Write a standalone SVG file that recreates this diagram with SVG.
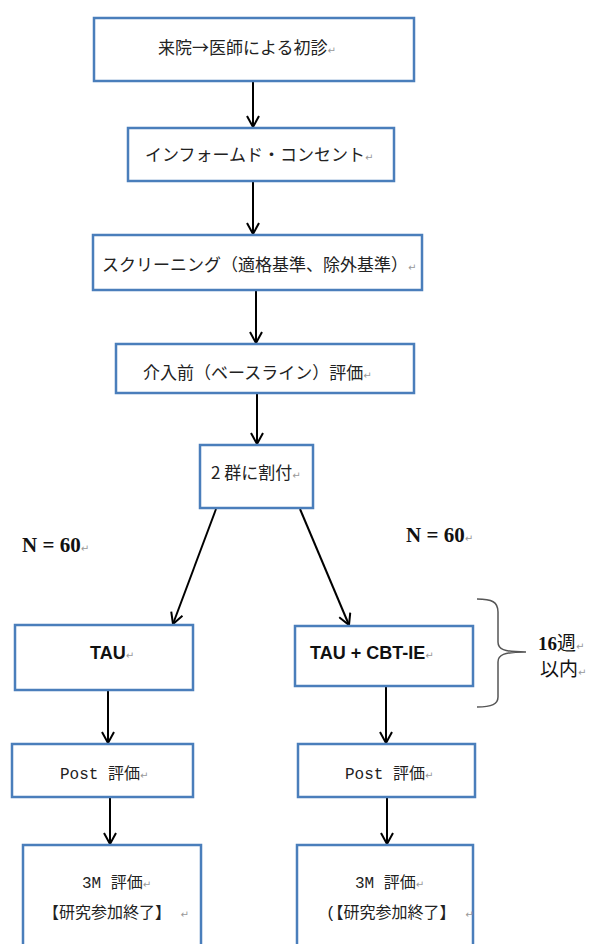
<svg xmlns="http://www.w3.org/2000/svg" width="592" height="944" viewBox="0 0 592 944">
<style>
.box{fill:#fff;stroke:#4a7ebb;stroke-width:2.5}
.jp{font-family:"Noto Sans CJK JP","Noto Sans CJK SC",sans-serif;font-size:17px;fill:#222}
.mono{font-family:"Liberation Mono","Noto Sans CJK JP",monospace;font-size:16px;fill:#222}
.en{font-family:"Liberation Sans",Arial,sans-serif;font-weight:bold;font-size:18px;fill:#111}
.serif{font-family:"Liberation Serif","Noto Sans CJK JP",serif;font-weight:bold;font-size:21px;fill:#111}
.rm{font-family:"DejaVu Sans",sans-serif;font-size:10px;fill:#999;font-weight:normal}
.conn line{stroke:#000;stroke-width:2;marker-end:url(#arr)}
</style>
<defs>
<marker id="arr" markerUnits="userSpaceOnUse" viewBox="0 0 14 14" markerWidth="14" markerHeight="14" refX="12" refY="7" orient="auto">
<path d="M1,1 L12,7 L1,13" fill="none" stroke="#000" stroke-width="2"/>
</marker>
</defs>
<rect width="592" height="944" fill="#fff"/>
<g class="conn" id="connectors">
<line x1="253" y1="82" x2="253" y2="127"/>
<line x1="253" y1="182" x2="253" y2="234"/>
<line x1="256" y1="291" x2="256" y2="343"/>
<line x1="257" y1="394" x2="257" y2="444"/>
<line x1="216" y1="509" x2="173" y2="624"/>
<line x1="300" y1="509" x2="349" y2="625"/>
<line x1="108" y1="691" x2="108" y2="743"/>
<line x1="386" y1="687" x2="386" y2="743"/>
<line x1="110" y1="798" x2="110" y2="844"/>
<line x1="387" y1="798" x2="387" y2="844"/>
</g>
<g id="n1"><rect class="box" x="94" y="18" width="320" height="63"/><text class="jp" x="158" y="54">来院→医師による初診<tspan class="rm">↵</tspan></text></g>
<g id="n2"><rect class="box" x="128" y="128" width="266" height="53"/><text class="jp" x="145" y="161">インフォームド・コンセント<tspan class="rm">↵</tspan></text></g>
<g id="n3"><rect class="box" x="93" y="235" width="329" height="55"/><text class="jp" x="102" y="271">スクリーニング（適格基準、除外基準）<tspan class="rm">↵</tspan></text></g>
<g id="n4"><rect class="box" x="116" y="344" width="298" height="49"/><text class="jp" x="143" y="379">介入前（ベースライン）評価<tspan class="rm">↵</tspan></text></g>
<g id="n5"><rect class="box" x="200" y="445" width="113" height="63"/><text class="jp" x="211" y="479">2 群に割付<tspan class="rm">↵</tspan></text></g>
<g id="nL"><text class="serif" x="22" y="552">N = 60<tspan class="rm">↵</tspan></text></g>
<g id="nR"><text class="serif" x="406" y="542">N = 60<tspan class="rm">↵</tspan></text></g>
<g id="tau"><rect class="box" x="15" y="625" width="178" height="65"/><text class="en" x="90" y="659">TAU<tspan class="rm">↵</tspan></text></g>
<g id="taucbt"><rect class="box" x="295" y="626" width="178" height="60"/><text class="en" x="310" y="659">TAU + CBT-IE<tspan class="rm">↵</tspan></text></g>
<g id="brace">
<path d="M477,599 C492,599 498,602 498,612 L498,642 C498,649 503,652 526,652 M526,652 C503,652 498,655 498,662 L498,697 C498,704 492,707 477,707" fill="none" stroke="#555" stroke-width="1.5"/>
<text x="538" y="650" style="font-family:'Liberation Serif','Noto Sans CJK JP',serif;font-weight:bold;font-size:19px;fill:#111">16<tspan style="font-family:'Noto Sans CJK JP',sans-serif;font-weight:normal">週</tspan><tspan class="rm">↵</tspan></text>
<text x="540" y="676" style="font-family:'Noto Sans CJK JP',sans-serif;font-size:19px;fill:#111">以内<tspan class="rm">↵</tspan></text>
</g>
<g id="postL"><rect class="box" x="12" y="744" width="181" height="53"/><text class="mono" x="60" y="779">Post 評価<tspan class="rm">↵</tspan></text></g>
<g id="postR"><rect class="box" x="298" y="744" width="177" height="53"/><text class="mono" x="345" y="779">Post 評価<tspan class="rm">↵</tspan></text></g>
<g id="m3L"><rect class="box" x="23" y="845" width="178" height="110"/><text class="mono" x="82" y="888">3M 評価<tspan class="rm">↵</tspan></text><text class="mono" x="43" y="918">【研究参加終了】 <tspan class="rm">↵</tspan></text></g>
<g id="m3R"><rect class="box" x="297" y="845" width="176" height="110"/><text class="mono" x="355" y="888">3M 評価<tspan class="rm">↵</tspan></text><text class="mono" x="326" y="918">(【研究参加終了】 <tspan class="rm">↵</tspan></text></g>
</svg>
